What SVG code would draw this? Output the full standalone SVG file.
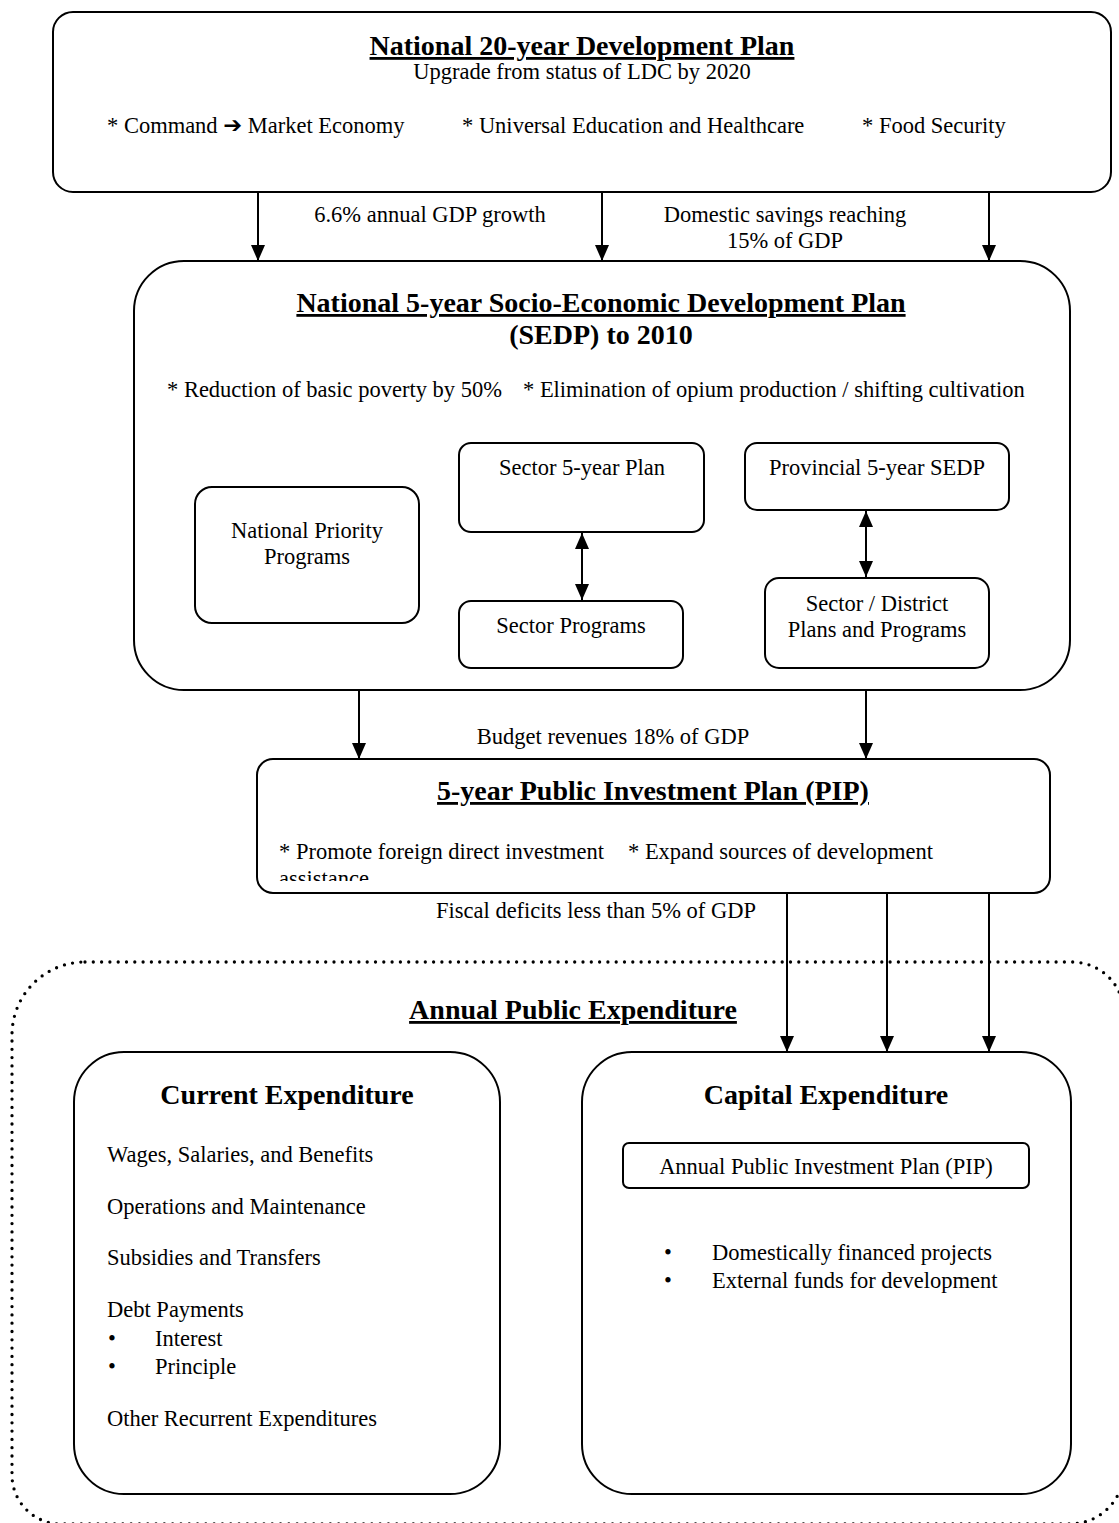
<svg xmlns="http://www.w3.org/2000/svg" width="1119" height="1523" viewBox="0 0 1119 1523">
  <style>
    text { font-family: "Liberation Serif", "Times New Roman", serif; fill: #000; }
    .t { font-size: 22.5px; }
    .h { font-size: 28px; font-weight: bold; }
    .u { text-decoration: underline; }
    .m { text-anchor: middle; }
    .box { fill: #fff; stroke: #000; stroke-width: 2; }
    .conn { stroke: #000; stroke-width: 2; fill: none; }
    .dots { fill: none; stroke: #000; stroke-width: 3.3; stroke-linecap: round; stroke-dasharray: 0 8.3; }
    .sym { font-family: "DejaVu Sans", sans-serif; }
  </style>
  <defs>
    <marker id="arrow" markerUnits="userSpaceOnUse" markerWidth="16" markerHeight="14" refX="16" refY="7" orient="auto-start-reverse">
      <path d="M0,0 L16,7 L0,14 Z" fill="#000"/>
    </marker>
    <clipPath id="pipClip">
      <rect x="257" y="760" width="793" height="121"/>
    </clipPath>
  </defs>

  <rect width="1119" height="1523" fill="#fff"/>

  <!-- Annual public expenditure frame (dotted) -->
  <g id="annual-expenditure">
    <path class="dots" d="M85,962 H1072 A52,52 0 0 1 1124,1014 V1470 A54,54 0 0 1 1070,1524 H61 A49,49 0 0 1 12,1475 V1035 A73,73 0 0 1 85,962 Z"/>
    <text class="h u m" x="573" y="1019">Annual Public Expenditure</text>
  </g>

  <!-- National 20-year plan -->
  <g id="national-20-year">
    <rect class="box" x="53" y="12" width="1058" height="180" rx="20"/>
    <text class="h u m" x="582" y="55">National 20-year Development Plan</text>
    <text class="t m" x="582" y="79">Upgrade from status of LDC by 2020</text>
    <text class="t" x="107" y="133">* Command <tspan class="sym" font-weight="bold">➔</tspan> Market Economy</text>
    <text class="t" x="462" y="133">* Universal Education and Healthcare</text>
    <text class="t" x="862" y="133">* Food Security</text>
  </g>

  <!-- National 5-year SEDP -->
  <g id="sedp">
    <rect class="box" x="134" y="261" width="936" height="429" rx="50"/>
    <text class="h u m" x="601" y="312">National 5-year Socio-Economic Development Plan</text>
    <text class="h m" x="601" y="344">(SEDP) to 2010</text>
    <text class="t" x="167" y="397">* Reduction of basic poverty by 50%</text>
    <text class="t" x="523" y="397">* Elimination of opium production / shifting cultivation</text>
  </g>

  <g id="national-priority">
    <rect class="box" x="195" y="487" width="224" height="136" rx="17"/>
    <text class="t m" x="307" y="538">National Priority</text>
    <text class="t m" x="307" y="564">Programs</text>
  </g>

  <g id="sector-plan">
    <rect class="box" x="459" y="443" width="245" height="89" rx="12"/>
    <text class="t m" x="582" y="475">Sector 5-year Plan</text>
  </g>

  <g id="sector-programs">
    <rect class="box" x="459" y="601" width="224" height="67" rx="12"/>
    <text class="t m" x="571" y="633">Sector Programs</text>
  </g>

  <g id="provincial-sedp">
    <rect class="box" x="745" y="443" width="264" height="67" rx="12"/>
    <text class="t m" x="877" y="475">Provincial 5-year SEDP</text>
  </g>

  <g id="district-plans">
    <rect class="box" x="765" y="578" width="224" height="90" rx="14"/>
    <text class="t m" x="877" y="611">Sector / District</text>
    <text class="t m" x="877" y="637">Plans and Programs</text>
  </g>

  <!-- 5-year PIP -->
  <g id="pip-5-year">
    <rect class="box" x="257" y="759" width="793" height="134" rx="16"/>
    <text class="h u m" x="653" y="800">5-year Public Investment Plan (PIP)</text>
    <g clip-path="url(#pipClip)">
      <text class="t" x="279" y="859">* Promote foreign direct investment</text>
      <text class="t" x="628" y="859">* Expand sources of development</text>
      <text class="t" x="279" y="886">assistance</text>
    </g>
  </g>

  <!-- Current expenditure -->
  <g id="current-expenditure">
    <rect class="box" x="74" y="1052" width="426" height="442" rx="50"/>
    <text class="h m" x="287" y="1104">Current Expenditure</text>
    <text class="t" x="107" y="1162">Wages, Salaries, and Benefits</text>
    <text class="t" x="107" y="1214">Operations and Maintenance</text>
    <text class="t" x="107" y="1265">Subsidies and Transfers</text>
    <text class="t" x="107" y="1317">Debt Payments</text>
    <text class="t" x="108" y="1346">•</text>
    <text class="t" x="155" y="1346">Interest</text>
    <text class="t" x="108" y="1374">•</text>
    <text class="t" x="155" y="1374">Principle</text>
    <text class="t" x="107" y="1426">Other Recurrent Expenditures</text>
  </g>

  <!-- Capital expenditure -->
  <g id="capital-expenditure">
    <rect class="box" x="582" y="1052" width="489" height="442" rx="50"/>
    <text class="h m" x="826" y="1104">Capital Expenditure</text>
  </g>

  <g id="annual-pip">
    <rect class="box" x="623" y="1143" width="406" height="45" rx="6"/>
    <text class="t m" x="826" y="1174">Annual Public Investment Plan (PIP)</text>
    <text class="t" x="664" y="1260">•</text>
    <text class="t" x="712" y="1260">Domestically financed projects</text>
    <text class="t" x="664" y="1288">•</text>
    <text class="t" x="712" y="1288">External funds for development</text>
  </g>

  <!-- Connectors -->
  <g id="connectors">
    <line class="conn" x1="258" y1="193" x2="258" y2="261" marker-end="url(#arrow)"/>
    <line class="conn" x1="602" y1="193" x2="602" y2="261" marker-end="url(#arrow)"/>
    <line class="conn" x1="989" y1="193" x2="989" y2="261" marker-end="url(#arrow)"/>
    <text class="t m" x="430" y="222">6.6% annual GDP growth</text>
    <text class="t m" x="785" y="222">Domestic savings reaching</text>
    <text class="t m" x="785" y="248">15% of GDP</text>

    <line class="conn" x1="582" y1="533" x2="582" y2="600" marker-start="url(#arrow)" marker-end="url(#arrow)"/>
    <line class="conn" x1="866" y1="511" x2="866" y2="577" marker-start="url(#arrow)" marker-end="url(#arrow)"/>

    <line class="conn" x1="359" y1="690" x2="359" y2="759" marker-end="url(#arrow)"/>
    <line class="conn" x1="866" y1="690" x2="866" y2="759" marker-end="url(#arrow)"/>
    <text class="t m" x="613" y="744">Budget revenues 18% of GDP</text>

    <line class="conn" x1="787" y1="893" x2="787" y2="1052" marker-end="url(#arrow)"/>
    <line class="conn" x1="887" y1="893" x2="887" y2="1052" marker-end="url(#arrow)"/>
    <line class="conn" x1="989" y1="893" x2="989" y2="1052" marker-end="url(#arrow)"/>
    <text class="t m" x="596" y="918">Fiscal deficits less than 5% of GDP</text>
  </g>
</svg>
